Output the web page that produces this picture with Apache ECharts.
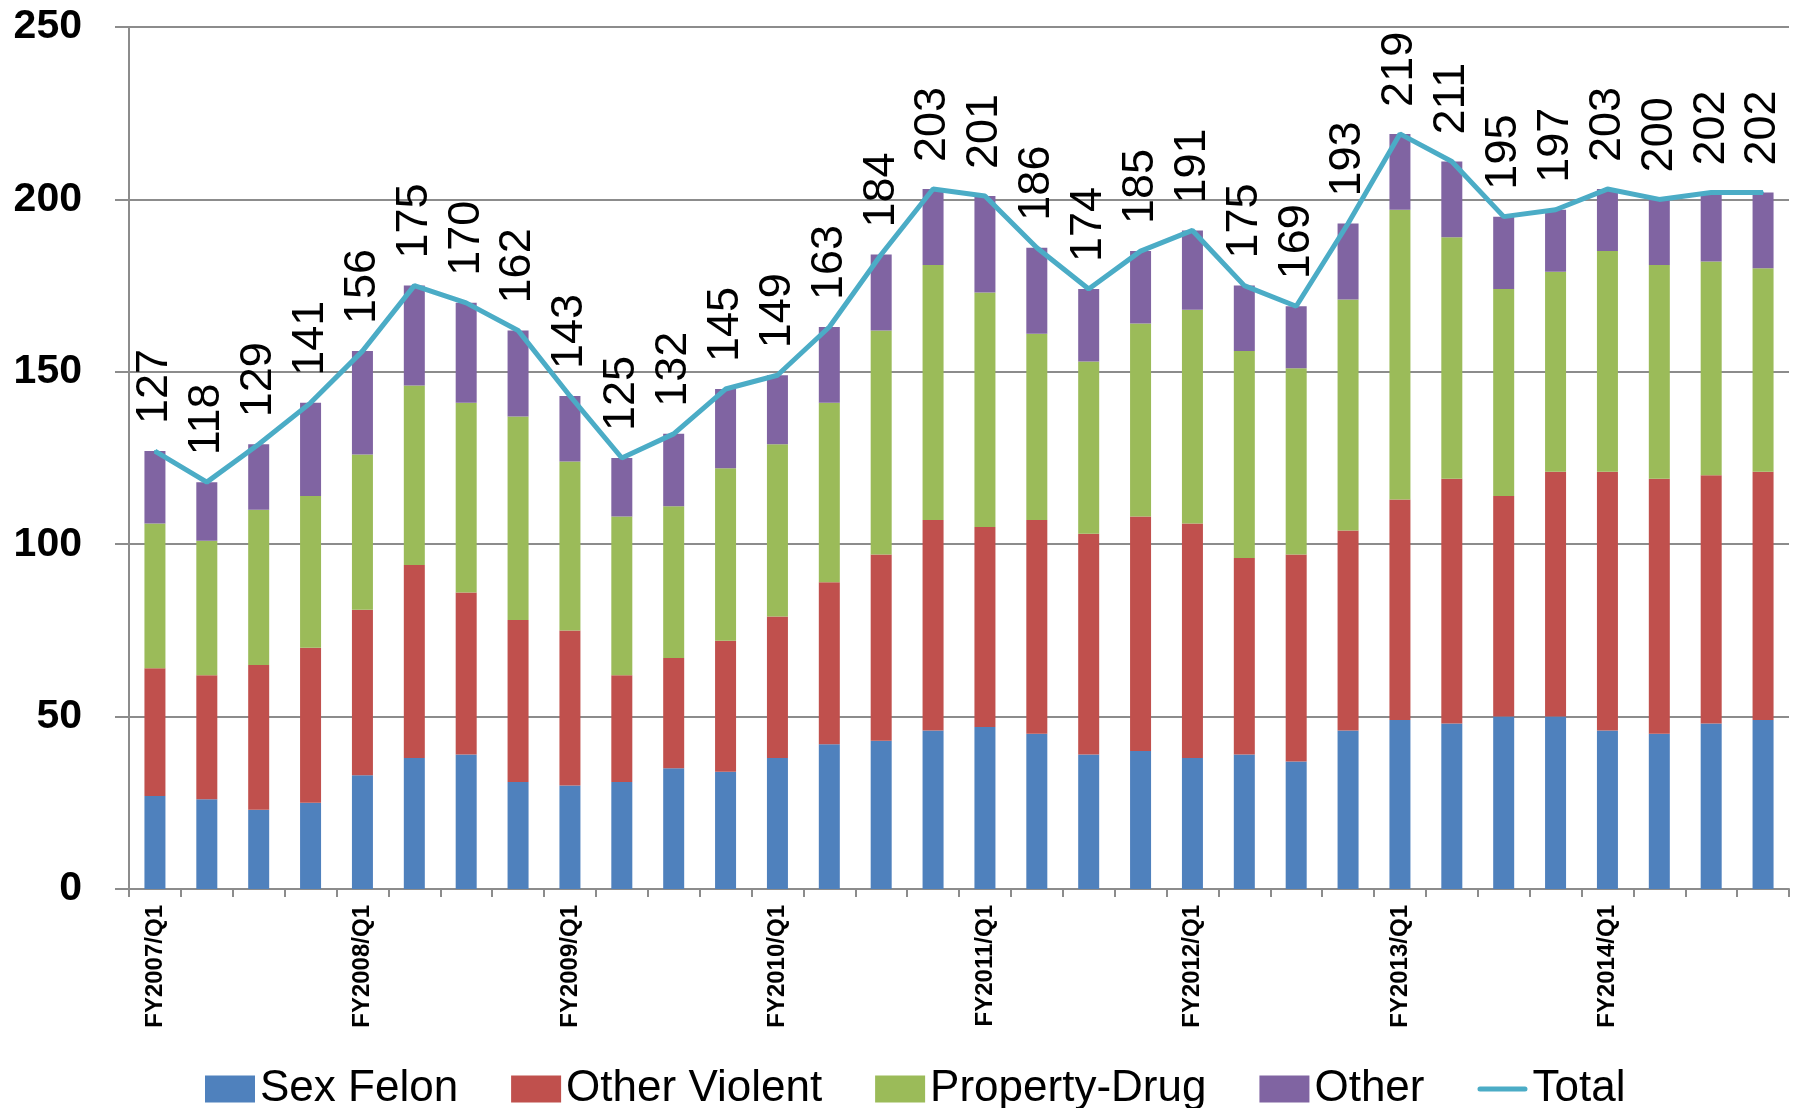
<!DOCTYPE html>
<html>
<head>
<meta charset="utf-8">
<script src="https://cdn.jsdelivr.net/npm/echarts@6/dist/echarts.min.js"></script>
<style>
html,body{margin:0;padding:0;background:#fff;}
#chart{width:1795px;height:1108px;}
</style>
</head>
<body>
<div id="chart"></div>
<script>
var categories = [
  'FY2007/Q1','FY2007/Q2','FY2007/Q3','FY2007/Q4',
  'FY2008/Q1','FY2008/Q2','FY2008/Q3','FY2008/Q4',
  'FY2009/Q1','FY2009/Q2','FY2009/Q3','FY2009/Q4',
  'FY2010/Q1','FY2010/Q2','FY2010/Q3','FY2010/Q4',
  'FY2011/Q1','FY2011/Q2','FY2011/Q3','FY2011/Q4',
  'FY2012/Q1','FY2012/Q2','FY2012/Q3','FY2012/Q4',
  'FY2013/Q1','FY2013/Q2','FY2013/Q3','FY2013/Q4',
  'FY2014/Q1','FY2014/Q2','FY2014/Q3','FY2014/Q4'
];
var sexFelon     = [27,26,23,25,33,38,39,31,30,31,35,34,38,42,43,46,47,45,39,40,38,39,37,46,49,48,50,50,46,45,48,49];
var otherViolent = [37,36,42,45,48,56,47,47,45,31,32,38,41,47,54,61,58,62,64,68,68,57,60,58,64,71,64,71,75,74,72,72];
var propertyDrug = [42,39,45,44,45,52,55,59,49,46,44,50,50,52,65,74,68,54,50,56,62,60,54,67,84,70,60,58,64,62,62,59];
var otherCat     = [21,17,19,27,30,29,29,25,19,17,21,23,20,22,22,22,28,25,21,21,23,19,18,22,22,22,21,18,18,19,20,22];
var total        = [127,118,129,141,156,175,170,162,143,125,132,145,149,163,184,203,201,186,174,185,191,175,169,193,219,211,195,197,203,200,202,202];
var yTicks = {min: 0, max: 250, interval: 50};

var gray = '#8c8c8c';
var chart = echarts.init(document.getElementById('chart'), null, {renderer: 'canvas'});

function barSeries(name, data, color) {
  return {
    name: name, type: 'bar', stack: 'all', data: data, barWidth: 21,
    itemStyle: {color: color}, z: 2
  };
}

chart.setOption({
  animation: false,
  backgroundColor: '#ffffff',
  grid: {left: 129, right: 6, top: 27, bottom: 219, containLabel: false},
  legend: {
    left: 200, top: 1062,
    itemWidth: 50, itemHeight: 27, itemGap: 53,
    textStyle: {fontFamily: 'Liberation Sans', fontSize: 44, color: '#000'},
    data: [
      {name: 'Sex Felon', icon: 'rect'},
      {name: 'Other Violent', icon: 'rect'},
      {name: 'Property-Drug', icon: 'rect'},
      {name: 'Other', icon: 'rect'},
      {name: 'Total', icon: 'path://M2.5,0 H47.5 A2.5,2.5 0 0 1 47.5,5 H2.5 A2.5,2.5 0 0 1 2.5,0 Z'}
    ]
  },
  xAxis: {
    type: 'category', data: categories, boundaryGap: true,
    axisLine: {lineStyle: {color: gray, width: 2}},
    axisTick: {show: true, interval: 0, length: 8, lineStyle: {color: gray, width: 2}},
    axisLabel: {
      interval: 3, rotate: 90, margin: 16,
      fontFamily: 'Liberation Sans', fontWeight: 'bold', fontSize: 24, color: '#000'
    },
    splitLine: {show: false}
  },
  yAxis: {
    type: 'value', min: yTicks.min, max: yTicks.max, interval: yTicks.interval,
    axisLine: {show: true, lineStyle: {color: gray, width: 2}},
    axisTick: {show: true, length: 14, lineStyle: {color: gray, width: 2}},
    axisLabel: {
      margin: 47, fontFamily: 'Liberation Sans', fontWeight: 'bold', fontSize: 41, color: '#000'
    },
    splitLine: {show: true, lineStyle: {color: gray, width: 2}}
  },
  series: [
    barSeries('Sex Felon', sexFelon, '#4F81BD'),
    barSeries('Other Violent', otherViolent, '#C0504D'),
    barSeries('Property-Drug', propertyDrug, '#9BBB59'),
    barSeries('Other', otherCat, '#8064A2'),
    {
      name: 'Total', type: 'line', data: total, z: 5,
      symbol: 'circle', symbolSize: 2, showSymbol: true,
      color: '#4BACC6',
      itemStyle: {color: '#4BACC6'},
      lineStyle: {color: '#4BACC6', width: 5},
      label: {
        show: true, position: 'top', distance: 26, rotate: 90,
        align: 'left', verticalAlign: 'middle',
        fontFamily: 'Liberation Sans', fontSize: 45, color: '#000',
        formatter: '{c}'
      }
    }
  ]
});
</script>
</body>
</html>
